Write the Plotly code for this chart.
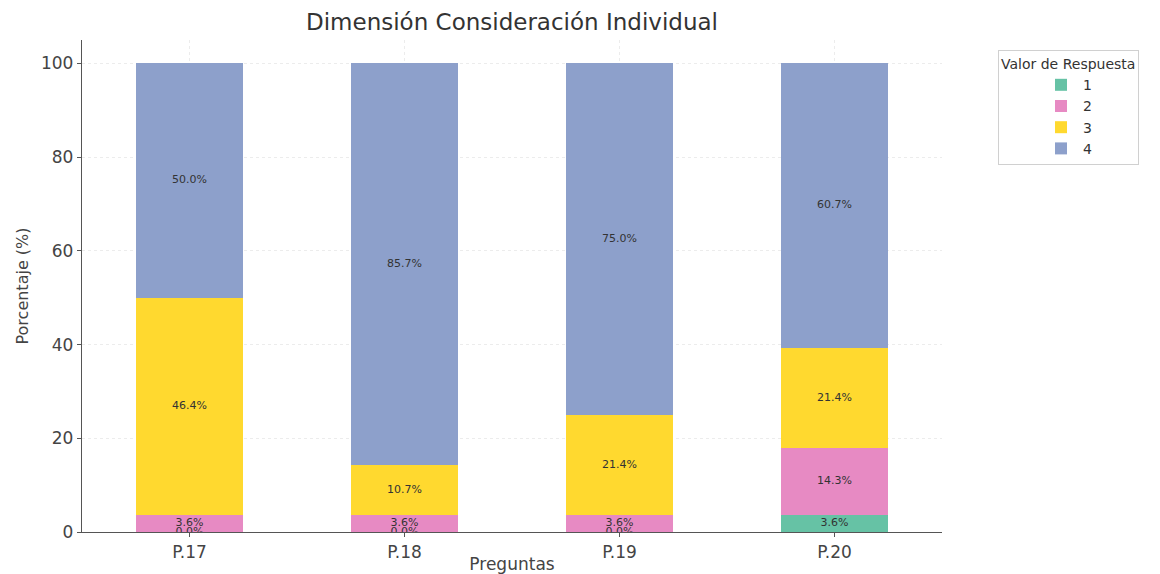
import plotly.graph_objects as go

categories = ["P.17", "P.18", "P.19", "P.20"]
series_names = ["1", "2", "3", "4"]
v1 = [0.0, 0.0, 0.0, 3.6]
v2 = [3.6, 3.6, 3.6, 14.3]
v3 = [46.4, 10.7, 21.4, 21.4]
v4 = [50.0, 85.7, 75.0, 60.7]
colors = ["#66c2a5", "#e78ac3", "#ffd92f", "#8da0cb"]
y_ticks = [0, 20, 40, 60, 80, 100]

series = [v1, v2, v3, v4]
font = "DejaVu Sans"

# page body has an 8px margin; figure is sized/placed to compensate
W, H = 1152, 566
L, R, T, B = 74, 218, 32, 42

fig = go.Figure()
for name, vals, col in zip(series_names, series, colors):
    fig.add_trace(go.Bar(x=categories, y=vals, name=name, marker_color=col,
                         marker_line_width=0, width=0.5))

# labels at segment centers (zero-height segments shown only where the source shows them)
lx, ly, lt = [], [], []
for i, c in enumerate(categories):
    base = 0.0
    for vals in series:
        v = vals[i]
        if v > 0 or i < 3:
            lx.append(c); ly.append(base + v / 2); lt.append(f"{v:.1f}%")
        base += v
fig.add_trace(go.Scatter(x=lx, y=ly, text=lt, mode="text", showlegend=False,
                         textfont=dict(family=font, size=11, color="#333333"),
                         hoverinfo="skip"))

pw = W - L - R
ph = H - T - B
fig.update_layout(
    width=W, height=H,
    barmode="stack",
    plot_bgcolor="white", paper_bgcolor="white",
    margin=dict(l=L, r=R, t=T, b=B, autoexpand=False),
    font=dict(family=font, color="#333333"),
    title=dict(text="Dimensión Consideración Individual", x=(L + pw / 2) / W, xanchor="center",
               y=1 - 14 / H, yanchor="middle", font=dict(size=23, color="#333333")),
    legend=dict(title=dict(text="Valor de Respuesta", font=dict(size=14, color="#333333"), side="top"),
                x=(990 - L) / pw, y=(ph + T - 42) / ph, xanchor="left", yanchor="top",
                bordercolor="#d0d0d0", borderwidth=1, bgcolor="white",
                font=dict(size=14, color="#333333"), indentation=40,
                itemwidth=34, tracegroupgap=0, traceorder="normal"),
)
fig.update_xaxes(range=[-0.5, 3.5], showline=True, linecolor="#555555", linewidth=1.3,
                 ticks="outside", ticklen=4, tickcolor="#555555", automargin=False,
                 showgrid=True, gridcolor="#ececec", griddash="dot", gridwidth=0.8,
                 tickfont=dict(size=17, color="#444444"),
                 title=dict(text="Preguntas", font=dict(size=17, color="#444444"), standoff=0))
fig.update_yaxes(range=[0, 105], tickvals=y_ticks, showline=True, linecolor="#555555", linewidth=1.3,
                 ticks="outside", ticklen=4, tickcolor="#555555", automargin=False,
                 showgrid=True, gridcolor="#ececec", griddash="dot", gridwidth=0.8,
                 zeroline=False,
                 tickfont=dict(size=17, color="#444444"),
                 title=dict(text="Porcentaje (%)", font=dict(size=16, color="#444444"), standoff=8))

fig.write_html("out.html")
